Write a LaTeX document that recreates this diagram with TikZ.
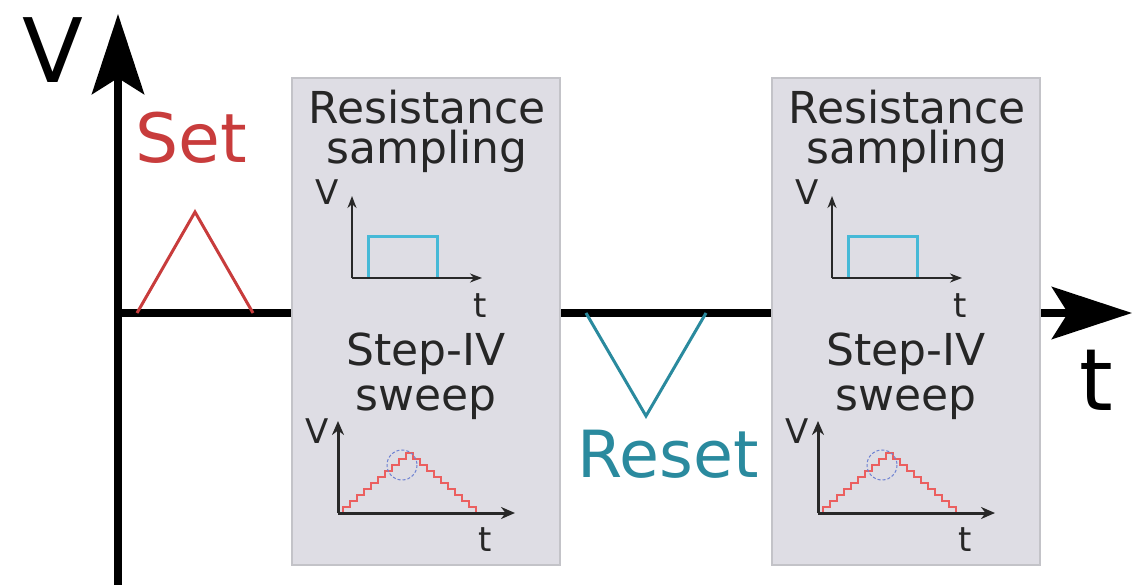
\documentclass[tikz,border=0pt]{standalone}
\usepackage{fontspec}
\setmainfont{DejaVu Sans}
\usetikzlibrary{arrows.meta}
\definecolor{setred}{RGB}{200,60,60}
\definecolor{resetteal}{RGB}{42,138,158}
\definecolor{pulsecyan}{RGB}{70,185,215}
\definecolor{stairred}{RGB}{235,95,95}
\definecolor{circblue}{RGB}{110,130,210}
\definecolor{boxfill}{RGB}{222,221,228}
\definecolor{boxline}{RGB}{195,195,200}
\definecolor{axisgrey}{RGB}{40,40,40}
\tikzset{
  bigaxis/.style={line width=8pt, black},
  bigtip/.style={-{Stealth[length=80pt,width=52pt,inset=16pt]}},
  panel/.style={draw=boxline, line width=1.2pt, fill=boxfill, minimum width=268pt, minimum height=487pt, inner sep=0pt},
  paneltext/.style={font=\fontsize{44}{50}\selectfont, text=black!85, anchor=base, inner sep=0pt},
  smalllabel/.style={font=\fontsize{34}{38}\selectfont, text=black!85, anchor=base, inner sep=0pt},
  smallaxis/.style={line width=2.5pt, axisgrey, -{Stealth[length=12pt,width=9pt]}},
  pulse/.style={line width=3pt},
}
\begin{document}
\begin{tikzpicture}[x=1pt,y=-1pt]
\useasboundingbox (0,0) rectangle (1133,585);
% main axes
\coordinate (O) at (118,313);
\coordinate (Vtop) at (118,14);
\coordinate (Vbot) at (118,585);
\coordinate (Tend) at (1132,313);
\draw[bigaxis] (Vbot) -- (O);
\draw[bigaxis, bigtip] (O) -- (Vtop);
\draw[bigaxis, bigtip] (O) -- (Tend);
\node[font=\fontsize{89}{90}\selectfont, anchor=base, inner sep=0pt] (Vlab) at (53,83) {V};
\node[font=\fontsize{86}{90}\selectfont, anchor=base, inner sep=0pt] (tlab) at (1096,410) {t};
% set pulse
\coordinate (s1) at (137,313);
\coordinate (s2) at (195,212);
\coordinate (s3) at (253,313);
\draw[setred, pulse, line join=miter] (s1) -- (s2) -- (s3);
\node[font=\fontsize{68}{70}\selectfont, text=setred, anchor=base, inner sep=0pt] (setlab) at (191,163) {Set};
% reset pulse
\coordinate (r1) at (586,313);
\coordinate (r2) at (646,416);
\coordinate (r3) at (706,313);
\draw[resetteal, pulse, line join=miter] (r1) -- (r2) -- (r3);
\node[font=\fontsize{65}{70}\selectfont, text=resetteal, anchor=base, inner sep=0pt] (resetlab) at (668,477) {Reset};
% panels
\foreach \dx/\nm in {0/a,480/b}{
  \begin{scope}[xshift=\dx pt]
    \node[panel] (panel\nm) at (426,321.5) {};
    \node[paneltext] (res\nm) at (427,124) {Resistance};
    \node[paneltext] (samp\nm) at (427,164) {sampling};
    \node[paneltext] (step\nm) at (426,366) {Step-IV};
    \node[paneltext] (sweep\nm) at (426,410) {sweep};
    % plot 1
    \coordinate (p1o\nm) at (352,278);
    \coordinate (p1y\nm) at (352,196);
    \coordinate (p1x\nm) at (482,278);
    \draw[pulsecyan, pulse] (368,278) -- (368,237) -- (437,237) -- (437,278);
    \draw[smallaxis] (p1o\nm) -- (p1y\nm);
    \draw[smallaxis] (p1o\nm) -- (p1x\nm);
    \node[smalllabel] (p1v\nm) at (327,205) {V};
    \node[smalllabel] (p1t\nm) at (480,318) {t};
    % plot 2
    \coordinate (p2o\nm) at (338,513);
    \coordinate (p2y\nm) at (338,421);
    \coordinate (p2x\nm) at (515,513);
    \draw[stairred, line width=1.4pt]
      (343,513) \foreach \k in {1,...,10}{ -- ++(0,-6) -- ++(7,0) }
      \foreach \k in {1,...,10}{ -- ++(0,6) -- ++(7,0) };
    \draw[circblue, line width=1pt, dashed, dash pattern=on 3pt off 2pt] (402,465) circle (15);
    \draw[smallaxis, line width=3pt, -{Stealth[length=14pt,width=12pt]}] (p2o\nm) -- (p2y\nm);
    \draw[smallaxis, line width=3pt, -{Stealth[length=14pt,width=12pt]}] (p2o\nm) -- (p2x\nm);
    \node[smalllabel] (p2v\nm) at (317,443) {V};
    \node[smalllabel] (p2t\nm) at (485,551) {t};
  \end{scope}
}
\end{tikzpicture}
\end{document}
